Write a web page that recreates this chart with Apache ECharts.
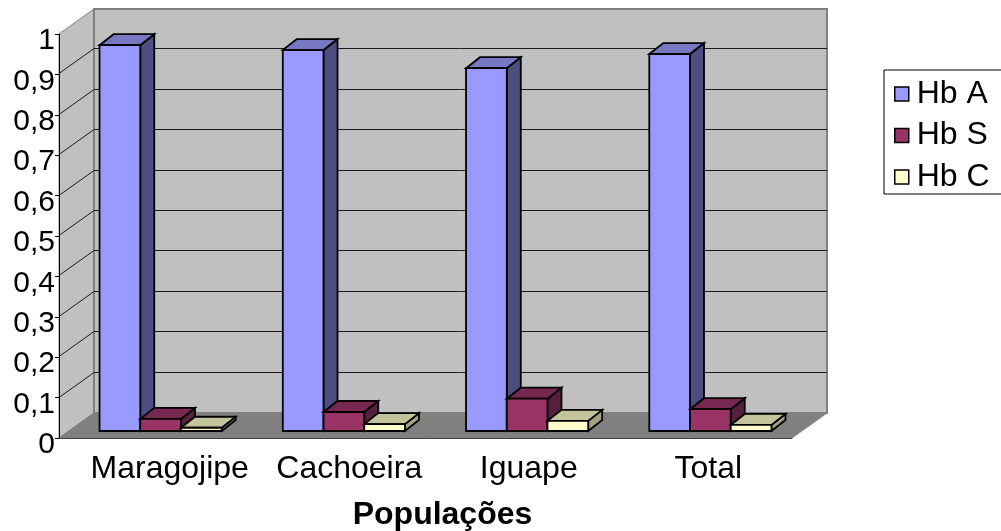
<!DOCTYPE html>
<html>
<head>
<meta charset="utf-8">
<style>html,body{margin:0;padding:0;background:#fff}#chart{width:1001px;height:531px}</style>
<script src="https://cdn.jsdelivr.net/npm/echarts@6/dist/echarts.min.js"></script>
</head>
<body>
<div id="chart"></div>
<script>
var categories = ['Maragojipe', 'Cachoeira', 'Iguape', 'Total'];
var hbA = [0.955, 0.943, 0.898, 0.933];
var hbS = [0.03, 0.047, 0.08, 0.054];
var hbC = [0.008, 0.017, 0.025, 0.015];
var yTicks = [0, 0.1, 0.2, 0.3, 0.4, 0.5, 0.6, 0.7, 0.8, 0.9, 1];

var font = 'Liberation Sans';
var fontSize = 32;
// depth of the fake 3d box, and where the bars stand inside it
var boxDx = 35, boxDy = -25;
var barOffX = 10, barOffY = -7;
var barDx = 14, barDy = -11;
var barCount = 3;
var gapBars = 1.5; // gap on the band, in bar widths

function poly(points, fill, stroke, width) {
    return {
        type: 'polygon',
        shape: { points: points },
        style: { fill: fill, stroke: stroke, lineWidth: width, lineJoin: 'miter' }
    };
}

function line(a, b, color, width) {
    return {
        type: 'line',
        shape: { x1: a[0], y1: a[1], x2: b[0], y2: b[1] },
        style: { stroke: color, lineWidth: width }
    };
}

// back wall, left wall and floor, one element per call
function renderBox(params, api) {
    var left = params.coordSys.x, right = left + params.coordSys.width;
    var y0 = api.coord([0, 0])[1], y1 = api.coord([0, 1])[1];
    var border = '#808080';
    return {
        type: 'group',
        children: [
            poly([[left, y0], [left + boxDx, y0 + boxDy], [left + boxDx, y1 + boxDy], [left, y1]], '#c0c0c0', border, 1),
            poly([[left + boxDx, y0 + boxDy], [right + boxDx, y0 + boxDy], [right + boxDx, y1 + boxDy], [left + boxDx, y1 + boxDy]], '#c0c0c0', border, 2),
            poly([[left, y0], [left + boxDx, y0 + boxDy], [right + boxDx, y0 + boxDy], [right, y0]], '#808080', border, 1)
        ]
    };
}

function renderGridLine(params, api) {
    var v = api.value(0);
    if (v === 0 || v === 1) return null;
    var left = params.coordSys.x, right = left + params.coordSys.width;
    var y = Math.round(api.coord([0, v])[1]) - 0.5;
    return {
        type: 'group',
        children: [
            line([left, y], [left + boxDx, y + boxDy], '#1a1a1a', 1),
            line([left + boxDx, y + boxDy], [right + boxDx, y + boxDy], '#1a1a1a', 1)
        ]
    };
}

function makeBarRender(index, front, side, top) {
    return function (params, api) {
        var cat = api.value(0);
        var band = api.size([1, 0])[0];
        var w = band / (barCount + gapBars);
        var x0 = api.coord([cat, 0])[0] - w * barCount / 2 + w * index + barOffX;
        var x1 = x0 + w;
        var yb = api.coord([cat, 0])[1] + barOffY;
        var yt = api.coord([cat, api.value(1)])[1] + barOffY;
        var stroke = '#000', lw = 1.8;
        return {
            type: 'group',
            children: [
                poly([[x1, yb], [x1 + barDx, yb + barDy], [x1 + barDx, yt + barDy], [x1, yt]], side, stroke, lw),
                poly([[x0, yt], [x0 + barDx, yt + barDy], [x1 + barDx, yt + barDy], [x1, yt]], top, stroke, lw),
                poly([[x0, yb], [x1, yb], [x1, yt], [x0, yt]], front, stroke, lw)
            ]
        };
    };
}

function barSeries(name, values, index, front, side, top) {
    return {
        name: name,
        type: 'custom',
        z: 5,
        itemStyle: { color: front },
        clip: false,
        renderItem: makeBarRender(index, front, side, top),
        encode: { x: 0, y: 1 },
        data: values.map(function (v, i) { return [i, v]; })
    };
}

var chart = echarts.init(document.getElementById('chart'), null, { renderer: 'canvas' });
chart.setOption({
    animation: false,
    backgroundColor: '#fff',
    grid: [
        { left: 59, right: 209, top: 34, bottom: 93, outerBoundsMode: 'none' },
        // labels sit under the whole box, depth included, so they get their own wider band
        { left: 80, right: 203, top: 34, bottom: 93, outerBoundsMode: 'none' }
    ],
    legend: {
        left: 884,
        top: 70,
        orient: 'vertical',
        padding: [8, 40, 1, 10],
        itemWidth: 14,
        itemHeight: 14,
        itemGap: 9.5,
        borderColor: '#000',
        borderWidth: 1,
        textStyle: { fontFamily: font, fontSize: fontSize, color: '#000', padding: [0, 0, 0, 3] },
        data: [
            { name: 'Hb A', icon: 'rect', itemStyle: { color: '#9999ff', borderColor: '#000', borderWidth: 1.5 } },
            { name: 'Hb S', icon: 'rect', itemStyle: { color: '#993366', borderColor: '#000', borderWidth: 1.5 } },
            { name: 'Hb C', icon: 'rect', itemStyle: { color: '#ffffcc', borderColor: '#000', borderWidth: 1.5 } }
        ]
    },
    xAxis: [
        {
            type: 'category',
            gridIndex: 0,
            data: categories,
            axisLine: { lineStyle: { color: '#404040', width: 1 } },
            axisTick: { alignWithLabel: false, length: 5, lineStyle: { color: '#808080' } },
            axisLabel: { show: false },
            z: 6
        },
        {
            type: 'category',
            gridIndex: 1,
            data: categories,
            name: 'Populações',
            nameLocation: 'middle',
            nameGap: 61,
            nameTextStyle: { fontFamily: font, fontSize: fontSize, fontWeight: 'bold', color: '#000', padding: [0, 0, 0, 7] },
            axisLine: { show: false },
            axisTick: { show: false },
            axisLabel: { fontFamily: font, fontSize: fontSize, color: '#000', margin: 15, interval: 0 }
        }
    ],
    yAxis: [
        {
            type: 'value',
            gridIndex: 0,
            min: 0,
            max: 1,
            interval: 0.1,
            splitLine: { show: false },
            axisLine: { show: true, lineStyle: { color: '#000', width: 1 } },
            axisTick: { show: true, length: 4, lineStyle: { color: '#000' } },
            axisLabel: {
                margin: 4,
                formatter: function (v) { return '{t|' + String(v).replace('.', ',') + '}'; },
                rich: { t: { fontFamily: font, fontSize: 30, color: '#000', padding: [14, 0, 0, 0] } }
            },
            z: 6
        },
        { type: 'value', gridIndex: 1, min: 0, max: 1, show: false }
    ],
    series: [
        { type: 'custom', silent: true, z: 1, clip: false, renderItem: renderBox, data: [[0, 0]] },
        {
            type: 'custom', silent: true, z: 2, clip: false, renderItem: renderGridLine, encode: { y: 0 },
            data: yTicks.map(function (v) { return [v]; })
        },
        barSeries('Hb A', hbA, 0, '#9999ff', '#4d4d80', '#7777c2'),
        barSeries('Hb S', hbS, 1, '#993366', '#561f3d', '#762850'),
        barSeries('Hb C', hbC, 2, '#ffffcc', '#a3a37f', '#c4c49c')
    ]
});
</script>
</body>
</html>
